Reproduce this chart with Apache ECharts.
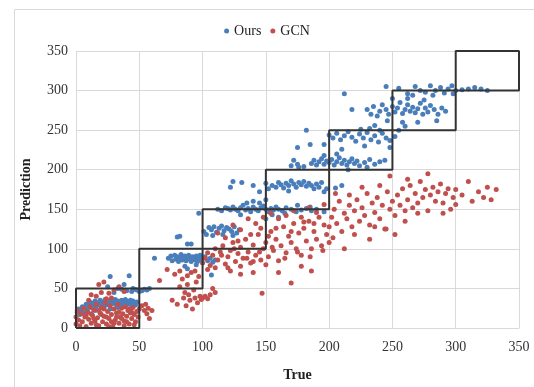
<!DOCTYPE html>
<html>
<head>
<meta charset="utf-8">
<script src="https://cdn.jsdelivr.net/npm/echarts@6/dist/echarts.min.js"></script>
<style>
  html, body { margin: 0; padding: 0; background: #fff; }
  #chart { width: 534px; height: 387px; }
</style>
</head>
<body>
<div id="chart"></div>
<script>
// axis ticks
let xTicks = [0, 50, 100, 150, 200, 250, 300, 350];
let yTicks = [0, 50, 100, 150, 200, 250, 300, 350];

// diagonal boxes (lower corner, box side)
let boxStarts = [0, 50, 100, 150, 200, 250, 300];
let boxSize = 50;

// "Ours" points [true, prediction]
let oursData = [
  [1,20],[2,24],[3,17],[4,22],[5,27],[6,19],[7,25],[8,30],[9,22],[10,28],[11,33],[12,26],[13,31],[14,29],[15,34],
  [16,27],[17,32],[18,30],[19,35],[20,28],[21,33],[22,31],[23,36],[24,29],[25,34],[26,32],[27,30],[28,35],[29,33],
  [30,31],[31,36],[32,29],[33,34],[34,32],[35,30],[36,35],[37,33],[38,31],[39,36],[40,34],[41,30],[42,33],[43,35],
  [44,31],[45,34],[46,32],[47,29],[48,33],[22,25],[27,24],[33,26],[38,27],[15,22],[44,26],
  [25,52],[27,65],[33,50],[36,49],[40,47],[42,66],[45,50],[30,45],[38,55],
  [48,48],[50,46],[52,47],[54,49],[56,48],[58,50],[44,46],[46,49],
  [62,88],[73,88],[75,91],[76,85],[78,92],[79,87],[80,90],[81,84],[82,89],[83,93],[84,86],[85,88],[86,91],[87,85],
  [88,89],[89,92],[90,87],[91,84],[92,90],[93,88],[94,86],[95,91],[96,84],[97,89],[98,92],[99,86],[100,88],[102,90],
  [104,85],[106,88],[108,83],[110,86],[86,78],[88,75],[95,80],[107,67],
  [80,115],[82,116],[88,106],[91,106],
  [101,122],[103,118],[105,127],[107,124],[109,128],[111,121],[113,126],[115,129],[117,123],[119,127],[121,125],
  [123,122],[125,128],[127,120],[129,124],[108,117],[116,118],[124,117],[97,145],
  [112,150],[115,148],[118,152],[120,151],[122,149],[124,153],[126,150],[128,148],[130,152],[132,155],[134,149],
  [136,151],[138,147],[140,153],[142,150],[144,148],[146,152],[148,154],[150,150],[152,147],[154,151],[156,149],
  [158,153],[160,150],[163,148],[166,152],[170,150],[174,147],[178,149],[182,151],[186,148],[190,150],[196,147],
  [135,158],[140,160],[145,158],[150,162],[155,143],[165,145],[130,143],[160,140],[150,138],[175,155],[185,153],
  [122,178],[124,185],[131,184],[140,180],[150,183],[152,176],[155,180],[158,178],[160,184],[162,181],[164,177],
  [166,183],[168,180],[170,186],[172,182],[174,178],[176,184],[178,181],[180,185],[182,179],[184,183],[186,180],
  [188,176],[190,182],[192,178],[194,184],[196,172],[198,176],[205,177],[210,180],[145,172],[168,173],
  [170,205],[175,207],[180,204],
  [186,208],[188,212],[190,206],[192,210],[194,214],[196,207],[198,211],[200,209],[202,213],[204,206],[206,210],
  [208,215],[210,208],[212,212],[214,206],[216,210],[218,214],[220,208],[222,211],[224,205],[228,209],[232,213],
  [236,207],[240,210],[244,212],[172,212],[176,203],[196,218],[206,220],[215,200],[230,203],
  [185,232],[182,250],[175,228],[218,276],
  [200,244],[203,240],[206,246],[209,238],[212,243],[215,248],[218,241],[221,236],[224,245],[227,240],[230,247],
  [233,238],[236,243],[239,235],[242,246],[245,240],[248,237],[252,242],[225,251],[232,252],[240,250],[196,232],
  [228,230],[255,250],[210,226],[248,228],[260,255],
  [230,276],[233,270],[235,280],[238,268],[240,274],[242,282],[245,276],[247,270],[250,280],[252,273],[254,278],
  [256,285],[258,271],[260,276],[262,282],[264,274],[266,279],[268,272],[270,277],[272,284],[274,270],[276,278],
  [278,273],[280,281],[283,276],[286,270],[289,278],[292,274],[246,262],[258,260],[270,260],[285,262],[236,256],
  [262,290],[275,288],[250,290],
  [255,303],[262,296],[268,305],[272,300],[276,298],[280,306],[284,300],[288,304],[291,297],[294,302],[297,306],
  [300,300],[305,301],[310,302],[315,304],[320,302],[325,300],[298,296],[282,294],[266,294],[245,305],[212,296]
];

// "GCN" points [true, prediction]
let gcnData = [
  [0,5],[0,14],[1,22],[2,10],[3,3],[4,18],[5,8],[6,25],[7,14],[8,2],[9,20],[10,11],[11,27],[12,6],[13,16],[14,23],
  [15,9],[16,30],[17,13],[18,3],[19,19],[20,26],[21,8],[22,15],[23,32],[24,5],[25,21],[26,12],[27,28],[28,17],
  [29,2],[30,24],[31,10],[32,19],[33,30],[34,6],[35,14],[36,25],[37,18],[38,9],[39,27],[40,15],[41,22],[42,5],
  [43,19],[44,12],[45,26],[46,17],[47,8],[48,21],[49,14],[50,24],[12,18],[18,22],[24,14],[30,6],[36,12],[42,24],
  [28,8],[20,17],[34,20],[16,4],[26,2],[22,24],[38,3],[44,20],[8,16],[14,12],[32,14],[40,8],[46,4],
  [16,40],[18,55],[22,58],[26,44],[30,48],[34,52],[20,45],[12,42],[38,46],[24,37],[28,38],[10,35],
  [52,28],[54,22],[56,18],[58,12],[55,30],[57,25],[60,22],
  [66,60],[72,74],[76,35],[78,68],[80,30],[82,52],[84,62],[85,38],[86,45],[87,28],[88,55],[89,42],[90,35],[91,70],
  [92,24],[93,48],[94,38],[95,58],[96,32],[97,65],[98,40],[99,36],[100,38],[102,40],[104,37],[106,42],[108,50],
  [110,45],[88,66],[82,72],[94,72],[104,74],[110,76],
  [100,82],[102,88],[104,95],[106,79],[108,92],[110,100],[112,86],[114,96],[116,104],[118,81],[120,90],[122,98],
  [124,108],[126,84],[128,94],[130,102],[132,88],[134,112],[136,96],[138,82],[140,105],[142,92],[144,118],[146,86],
  [148,100],[150,108],[152,90],[154,122],[156,98],[158,112],[160,85],[162,104],[164,128],[166,95],[168,116],
  [170,108],[172,132],[174,100],[176,120],[178,92],[180,126],[182,110],[184,135],[186,100],[188,122],[190,112],
  [192,140],[194,104],[196,130],[198,118],[200,108],
  [112,120],[118,114],[124,130],[130,124],[136,138],[142,132],[148,140],[154,145],[160,138],[166,142],[172,148],
  [178,140],[184,152],[190,146],[196,156],[130,78],[140,84],[150,80],[120,76],[115,92],[125,100],[135,88],
  [145,96],[155,102],[165,88],[175,96],[185,90],[195,98],[128,110],[138,118],[158,126],[170,122],[180,134],
  [188,132],[146,126],[152,116],
  [147,44],[170,57],[160,70],[178,78],[186,72],[140,70],[130,68],[122,72],
  [200,128],[202,140],[204,150],[206,132],[208,160],[210,122],[212,145],[214,138],[216,155],[218,128],[220,148],
  [222,162],[224,135],[226,152],[228,142],[230,170],[232,130],[234,158],[236,146],[238,165],[240,138],[242,155],
  [244,125],[246,172],[248,150],[250,160],[252,142],[254,168],[256,155],[258,176],[260,148],[262,162],[264,180],
  [266,152],[268,170],[270,158],[272,185],[274,165],[276,175],[278,148],[280,168],[282,178],[284,160],[286,172],
  [288,182],[290,158],[292,170],[294,176],[296,150],[298,165],[300,175],
  [203,114],[212,100],[220,118],[232,112],[245,125],[252,118],[260,135],[216,168],[226,178],[240,180],[248,192],
  [262,188],[278,195],[205,170],[290,145],[300,156],[236,128],[270,145],
  [305,168],[310,185],[313,160],[318,172],[322,165],[325,178],[328,162],[332,175]
];

// outline of the boxes as one broken line, built from the box bounds
let boxPath = [];
boxStarts.forEach(function (s) {
    let e = s + boxSize;
    boxPath.push([s, s], [e, s], [e, e], [s, e], [s, s], [null, null]);
});

let serifFont = '"Liberation Serif", "Times New Roman", serif';

let chart = echarts.init(document.getElementById('chart'));
let option = {
    backgroundColor: '#fff',
    animation: false,
    graphic: [{
        type: 'rect',
        left: 12, top: 7,
        shape: {width: 600, height: 500},
        style: {fill: 'none', stroke: '#d9d9d9', lineWidth: 1}
    }],
    legend: {
        top: 19,
        left: 'center',
        data: ['Ours', 'GCN'],
        icon: 'circle',
        itemWidth: 5,
        itemHeight: 5,
        itemGap: 9,
        textStyle: {fontFamily: serifFont, fontSize: 14, color: '#222'}
    },
    grid: {left: 76, right: 15, top: 51, bottom: 55},
    xAxis: {
        type: 'value',
        min: xTicks[0],
        max: xTicks[xTicks.length - 1],
        interval: xTicks[1] - xTicks[0],
        name: 'True',
        nameLocation: 'middle',
        nameGap: 40,
        nameTextStyle: {fontFamily: serifFont, fontSize: 14, fontWeight: 'bold', color: '#222'},
        axisLine: {show: true, lineStyle: {color: '#d9d9d9'}},
        axisTick: {show: false},
        axisLabel: {fontFamily: serifFont, fontSize: 14, color: '#333', margin: 12},
        splitLine: {show: true, lineStyle: {color: '#d9d9d9'}}
    },
    yAxis: {
        type: 'value',
        min: yTicks[0],
        max: yTicks[yTicks.length - 1],
        interval: yTicks[1] - yTicks[0],
        name: 'Prediction',
        nameLocation: 'middle',
        nameGap: 43,
        nameTextStyle: {fontFamily: serifFont, fontSize: 14, fontWeight: 'bold', color: '#222'},
        axisLine: {show: true, lineStyle: {color: '#d9d9d9'}},
        axisTick: {show: false},
        axisLabel: {fontFamily: serifFont, fontSize: 14, color: '#333', margin: 8},
        splitLine: {show: true, lineStyle: {color: '#d9d9d9'}}
    },
    series: [{
        name: 'Ours',
        type: 'scatter',
        symbolSize: 5,
        itemStyle: {color: '#4a7ebb', opacity: 1},
        data: oursData
    }, {
        name: 'GCN',
        type: 'scatter',
        symbolSize: 5,
        itemStyle: {color: '#c0504d', opacity: 1},
        data: gcnData
    }, {
        name: 'boxes',
        type: 'line',
        data: boxPath,
        symbol: 'none',
        connectNulls: false,
        silent: true,
        z: 5,
        lineStyle: {color: '#333', width: 2}
    }]
};
chart.setOption(option);
</script>
</body>
</html>
